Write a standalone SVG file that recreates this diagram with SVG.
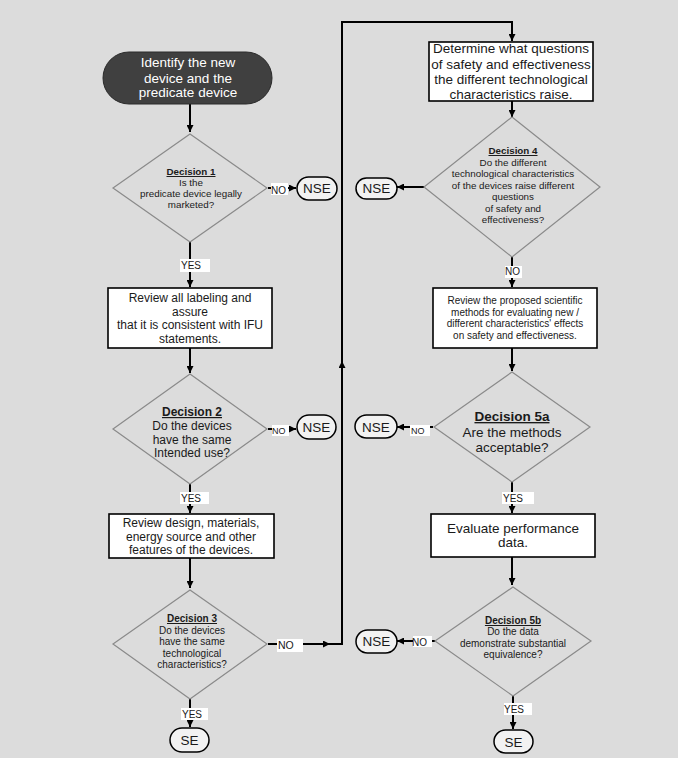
<svg xmlns="http://www.w3.org/2000/svg" width="678" height="758" viewBox="0 0 678 758">
<defs>
<marker id="ah" viewBox="0 0 10 10" refX="10" refY="5" markerWidth="7" markerHeight="7" markerUnits="userSpaceOnUse" orient="auto"><path d="M0,0 L10,5 L0,10 z" fill="#000"/></marker>
<style>
text{font-family:"Liberation Sans",Arial,sans-serif;fill:#1a1a1a;text-anchor:middle}
.box{fill:#fff;stroke:#000;stroke-width:1.6}
.dia{fill:none;stroke:#8a8a8a;stroke-width:1.2}
.pill{fill:#f2f2f2;stroke:#000;stroke-width:1.5}
.con{fill:none;stroke:#000;stroke-width:2}
.lbl{fill:#fff;stroke:none}
.lt{font-size:10px;text-anchor:start}
.dh{font-weight:bold;text-decoration:underline}
.t{font-size:13.5px}
</style>
</defs>
<rect width="678" height="758" fill="#dcdcdc"/>

<g id="connectors">
<path class="con" d="M190 104 V132" marker-end="url(#ah)"/>
<path class="con" d="M268 188 H296" marker-end="url(#ah)"/>
<path class="con" d="M190 242 V287" marker-end="url(#ah)"/>
<path class="con" d="M190 348 V373" marker-end="url(#ah)"/>
<path class="con" d="M268 429 H296" marker-end="url(#ah)"/>
<path class="con" d="M190 484 V513" marker-end="url(#ah)"/>
<path class="con" d="M190 558 V588" marker-end="url(#ah)"/>
<path class="con" d="M268 644 H330" marker-end="url(#ah)"/>
<path class="con" d="M328 644 H342 V361" marker-end="url(#ah)"/>
<path class="con" d="M342 362 V22 H512 V41" marker-end="url(#ah)"/>
<path class="con" d="M190 699 V727" marker-end="url(#ah)"/>
<path class="con" d="M512 101 V117" marker-end="url(#ah)"/>
<path class="con" d="M424 187 H397" marker-end="url(#ah)"/>
<path class="con" d="M512 257 V287" marker-end="url(#ah)"/>
<path class="con" d="M512 348 V371" marker-end="url(#ah)"/>
<path class="con" d="M433 427 H397" marker-end="url(#ah)"/>
<path class="con" d="M512 482 V513" marker-end="url(#ah)"/>
<path class="con" d="M512 557 V585" marker-end="url(#ah)"/>
<path class="con" d="M435 641 H397" marker-end="url(#ah)"/>
<path class="con" d="M513 696 V729" marker-end="url(#ah)"/>
<!-- labels -->
<rect class="lbl" x="271" y="183" width="17" height="12"/><text class="lt" x="271" y="194">NO</text>
<rect class="lbl" x="180" y="259" width="30" height="13"/><text class="lt" x="181" y="269">YES</text>
<rect class="lbl" x="272" y="425" width="17" height="11"/><text class="lt" x="272" y="434" style="font-size:9px">NO</text>
<rect class="lbl" x="180" y="492" width="29" height="12"/><text class="lt" x="181" y="502">YES</text>
<rect class="lbl" x="277" y="639" width="26" height="13"/><text class="lt" x="278" y="649" style="font-size:10.5px">NO</text>
<rect class="lbl" x="181" y="708" width="27" height="12"/><text class="lt" x="182" y="718">YES</text>
<rect class="lbl" x="505" y="266" width="17" height="12"/><text class="lt" x="505" y="275">NO</text>
<rect class="lbl" x="410" y="425" width="20" height="11"/><text class="lt" x="411" y="434" style="font-size:9px">NO</text>
<rect class="lbl" x="502" y="492" width="32" height="12"/><text class="lt" x="503" y="502">YES</text>
<rect class="lbl" x="413" y="636" width="19" height="11"/><text class="lt" x="412" y="646">NO</text>
<rect class="lbl" x="504" y="703" width="28" height="12"/><text class="lt" x="504" y="713">YES</text>
</g>

<g id="start">
<rect x="103" y="52" width="169" height="52" rx="26" fill="#404040" stroke="#2a2a2a" stroke-width="1"/>
<text class="t" x="188" y="67" style="fill:#fff">Identify the new</text>
<text class="t" x="188" y="82.5" style="fill:#fff">device and the</text>
<text class="t" x="188" y="97" style="fill:#fff">predicate device</text>
</g>

<g id="decision1" font-size="9.8">
<polygon class="dia" points="190,134 267,188 190,242 113,188"/>
<text class="dh" x="191" y="175">Decision 1</text>
<text x="191" y="186">Is the</text>
<text x="191" y="197">predicate device legally</text>
<text x="191" y="208">marketed?</text>
</g>
<g id="nse1"><rect class="pill" x="297" y="177" width="40" height="23" rx="11.5"/><text class="t" x="317" y="193">NSE</text></g>

<g id="review-labeling" font-size="12">
<rect class="box" x="108" y="288" width="164" height="60"/>
<text x="190" y="302">Review all labeling and</text>
<text x="190" y="315.5">assure</text>
<text x="190" y="329">that it is consistent with IFU</text>
<text x="190" y="343">statements.</text>
</g>

<g id="decision2" font-size="12">
<polygon class="dia" points="190,374 267,429 190,484 113,429"/>
<text class="dh" x="192" y="416">Decision 2</text>
<text x="192" y="430">Do the devices</text>
<text x="192" y="444">have the same</text>
<text x="192" y="457">Intended use?</text>
</g>
<g id="nse2"><rect class="pill" x="297" y="415" width="39" height="24" rx="12"/><text class="t" x="316.5" y="432">NSE</text></g>

<g id="review-design" font-size="12">
<rect class="box" x="109" y="514" width="165" height="44"/>
<text x="191" y="527">Review design, materials,</text>
<text x="191" y="541">energy source and other</text>
<text x="191" y="554">features of the devices.</text>
</g>

<g id="decision3" font-size="10">
<polygon class="dia" points="190,590 267,644 190,699 113,644"/>
<text class="dh" x="192" y="622">Decision 3</text>
<text x="192" y="634">Do the devices</text>
<text x="192" y="645">have the same</text>
<text x="192" y="657">technological</text>
<text x="192" y="668">characteristics?</text>
</g>
<g id="se1"><rect class="pill" x="170" y="728" width="39" height="24" rx="12"/><text class="t" x="189.5" y="745">SE</text></g>

<g id="determine" font-size="13.5">
<rect class="box" x="429" y="42" width="164" height="59"/>
<text x="511" y="53">Determine what questions</text>
<text x="511" y="69">of safety and effectiveness</text>
<text x="511" y="84">the different technological</text>
<text x="511" y="99">characteristics raise.</text>
</g>

<g id="decision4" font-size="9.8">
<polygon class="dia" points="512,117 600,187 512,257 424,187"/>
<text class="dh" x="513" y="154">Decision 4</text>
<text x="513" y="166">Do the different</text>
<text x="513" y="177">technological characteristics</text>
<text x="513" y="188.5">of the devices raise different</text>
<text x="513" y="200">questions</text>
<text x="513" y="212">of safety and</text>
<text x="513" y="223">effectiveness?</text>
</g>
<g id="nse4"><rect class="pill" x="356" y="178" width="41" height="21" rx="10.5"/><text class="t" x="376.5" y="193">NSE</text></g>

<g id="review-methods" font-size="10">
<rect class="box" x="433" y="288" width="164" height="60"/>
<text x="515" y="304">Review the proposed scientific</text>
<text x="515" y="315.5">methods for evaluating new /</text>
<text x="515" y="327">different characteristics' effects</text>
<text x="515" y="339">on safety and effectiveness.</text>
</g>

<g id="decision5a" font-size="13.5">
<polygon class="dia" points="512,372 590,427 512,482 434,427"/>
<text class="dh" x="512" y="421">Decision 5a</text>
<text x="512" y="436.5">Are the methods</text>
<text x="512" y="452">acceptable?</text>
</g>
<g id="nse5a"><rect class="pill" x="355" y="415" width="42" height="23" rx="11.5"/><text class="t" x="376" y="432">NSE</text></g>

<g id="evaluate" font-size="13.5">
<rect class="box" x="431" y="514" width="164" height="43"/>
<text x="513" y="533">Evaluate performance</text>
<text x="513" y="547">data.</text>
</g>

<g id="decision5b" font-size="10">
<polygon class="dia" points="513,587 591,641 513,696 435,641"/>
<text class="dh" x="513" y="624">Decision 5b</text>
<text x="513" y="635">Do the data</text>
<text x="513" y="647">demonstrate substantial</text>
<text x="513" y="658">equivalence?</text>
</g>
<g id="nse5b"><rect class="pill" x="356" y="630" width="41" height="23" rx="11.5"/><text class="t" x="376.5" y="646">NSE</text></g>
<g id="se2"><rect class="pill" x="494" y="730" width="39" height="23" rx="11.5"/><text class="t" x="513.5" y="747">SE</text></g>
</svg>
